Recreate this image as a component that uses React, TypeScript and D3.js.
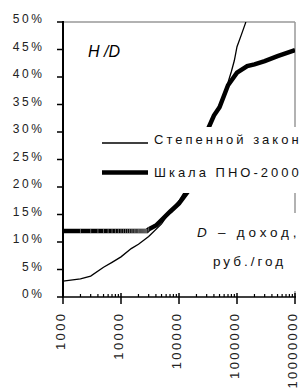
import React from 'react';
import * as d3 from 'd3';

// Степенной закон (power law) — D, H/D
const powerD = [1000, 2000, 3000, 5000, 7000, 10000, 15000, 20000, 30000, 50000, 70000, 100000, 150000, 200000, 300000, 400000, 500000, 600000, 700000, 800000, 900000, 1000000, 1200000, 1400000, 1500000];
const powerV = [0.029, 0.033, 0.038, 0.054, 0.063, 0.073, 0.088, 0.096, 0.11, 0.133, 0.155, 0.175, 0.205, 0.235, 0.29, 0.33, 0.35, 0.37, 0.39, 0.41, 0.43, 0.455, 0.478, 0.498, 0.51];

// Шкала ПНО-2000
const scaleD = [1000, 2000, 3000, 4000, 5000, 6000, 7000, 8000, 9000, 10000, 11000, 12000, 13000, 14000, 15000, 16000, 17000, 18000, 19000, 20000, 21000, 22000, 23000, 24000, 25000, 26000, 27000, 28000, 30000, 40000, 50000, 70000, 100000, 150000, 200000, 300000, 400000, 500000, 700000, 1000000, 1500000, 2000000, 3000000, 5000000, 10000000];
const scaleV = [0.12, 0.12, 0.12, 0.12, 0.12, 0.12, 0.12, 0.12, 0.12, 0.12, 0.12, 0.12, 0.12, 0.12, 0.12, 0.12, 0.12, 0.12, 0.12, 0.12, 0.12, 0.12, 0.12, 0.12, 0.12, 0.12, 0.12, 0.12, 0.123, 0.13, 0.14, 0.155, 0.17, 0.195, 0.24, 0.30, 0.33, 0.345, 0.385, 0.408, 0.42, 0.423, 0.429, 0.438, 0.449];

const yTicks = [0, 0.05, 0.1, 0.15, 0.2, 0.25, 0.3, 0.35, 0.4, 0.45, 0.5];
const xTicks = [1000, 10000, 100000, 1000000, 10000000];

const FONT = '"Liberation Sans", Arial, sans-serif';

export default function App() {
  const x = d3.scaleLog().domain([1000, 10000000]).range([63, 295]);
  const y = d3.scaleLinear().domain([0, 0.5]).range([297, 22]);

  const line = d3.line<[number, number]>()
    .x(d => x(d[0]))
    .y(d => y(d[1]));

  const power = powerD.map((d, i) => [d, powerV[i]] as [number, number]);
  const pno = scaleD.map((d, i) => [d, scaleV[i]] as [number, number]);

  // minor ticks between decades
  const minor: number[] = [];
  for (let k = 0; k < xTicks.length - 1; k++) {
    for (let m = 2; m <= 9; m++) minor.push(xTicks[k] * m);
  }

  return (
    <svg width={305} height={389} style={{ position: 'absolute', left: 0, top: 0, background: '#fff' }}>
      <defs>
        <clipPath id="plot">
          <rect x={63} y={22} width={232} height={275} />
        </clipPath>
      </defs>

      {/* plot border */}
      <line x1={63} x2={295} y1={22} y2={22} stroke="#999" strokeWidth={1.5} />
      <line x1={295} x2={295} y1={22} y2={297} stroke="#999" strokeWidth={1.5} />

      <g clipPath="url(#plot)">
        <path d={line(pno) || ''} fill="none" stroke="#000" strokeWidth={4.5} />
        {pno.filter(d => d[0] <= 30000 && d[0] > 1000).map((d, i) => (
          <line key={i} x1={x(d[0])} x2={x(d[0])} y1={y(d[1]) - 2} y2={y(d[1]) + 2}
            stroke="#fff" strokeOpacity={0.5} strokeWidth={0.8} />
        ))}
        <path d={line(power) || ''} fill="none" stroke="#000" strokeWidth={1.3} />
      </g>

      <text x={88} y={57} fontFamily={FONT} fontSize={16} fontStyle="italic">H /D</text>

      {/* legend */}
      <rect x={100} y={127} width={205} height={66} fill="#fff" />
      <line x1={102} x2={148} y1={143} y2={143} stroke="#000" strokeWidth={1.3} />
      <text x={154} y={143.5} fontFamily={FONT} fontSize={13} letterSpacing={3} fill="#111">Степенной закон</text>
      <line x1={102} x2={148} y1={172.5} y2={172.5} stroke="#000" strokeWidth={4.5} />
      <text x={154} y={177} fontFamily={FONT} fontSize={13} letterSpacing={3} fill="#111">Шкала ПНО-2000</text>

      {/* axis title box */}
      <rect x={190} y={213} width={115} height={78} fill="#fff" />
      <text x={197} y={237} fontFamily={FONT} fontSize={13.5} fill="#111">
        <tspan fontStyle="italic">D</tspan>
        <tspan x={218} letterSpacing={3.8}>– доход,</tspan>
      </text>
      <text x={213} y={266} fontFamily={FONT} fontSize={13.5} letterSpacing={3} fill="#111">руб./год</text>

      {/* y axis */}
      <line x1={63} x2={63} y1={21} y2={297} stroke="#000" strokeWidth={2} />
      {yTicks.map(t => (
        <g key={t}>
          <line x1={57} x2={63} y1={y(t)} y2={y(t)} stroke="#000" strokeWidth={1.5} />
          <text x={44.5} y={y(t) + 1} textAnchor="end" fontFamily={FONT} fontSize={12} letterSpacing={2.6} fill="#222">
            {d3.format('.0%')(t)}
          </text>
        </g>
      ))}

      {/* x axis */}
      <line x1={62} x2={296} y1={297} y2={297} stroke="#000" strokeWidth={1.5} />
      {minor.map(t => (
        <line key={t} x1={x(t)} x2={x(t)} y1={294} y2={297} stroke="#000" strokeWidth={1.2} />
      ))}
      {xTicks.map(t => (
        <g key={t}>
          <line x1={x(t)} x2={x(t)} y1={293} y2={304} stroke="#000" strokeWidth={1.5} />
          <text transform={`translate(${x(t) + 2},${311.5}) rotate(-90)`} textAnchor="end"
            fontFamily={FONT} fontSize={13} letterSpacing={2.4} fill="#222">
            {String(t)}
          </text>
        </g>
      ))}
    </svg>
  );
}
